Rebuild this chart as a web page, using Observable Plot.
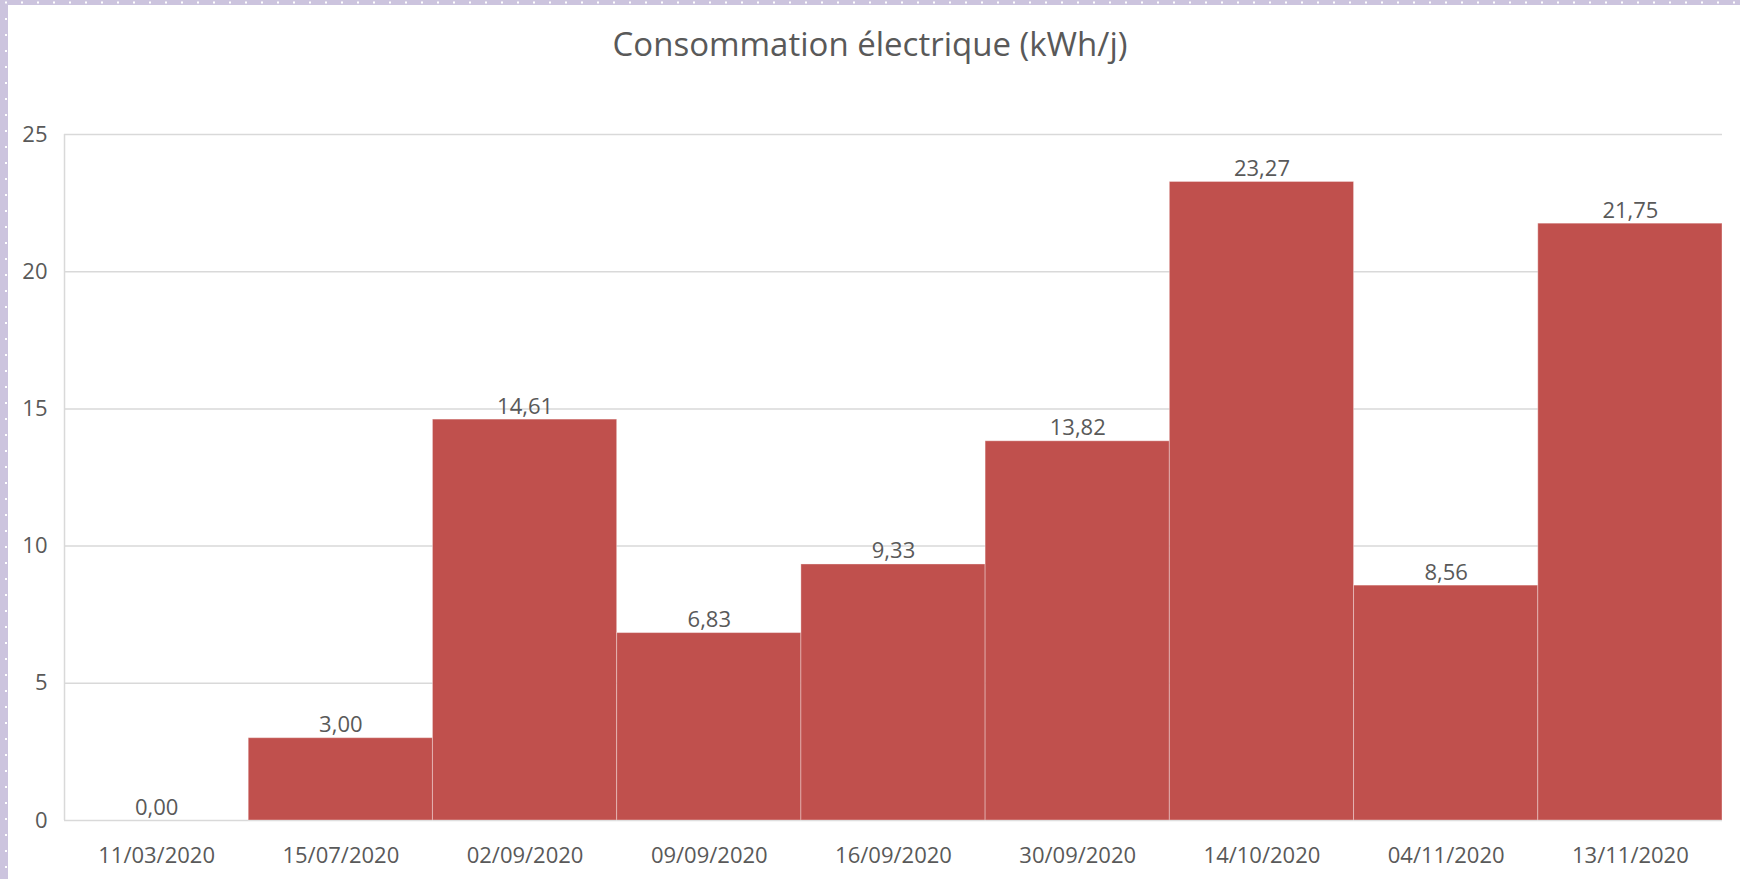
<!DOCTYPE html>
<html>
<head>
<meta charset="utf-8">
<script src="https://cdn.jsdelivr.net/npm/d3@7"></script>
<script src="https://cdn.jsdelivr.net/npm/@observablehq/plot@0.6"></script>
<style>
  html, body { margin: 0; padding: 0; background: #fff; }
  #wrap { position: relative; width: 1740px; height: 879px; overflow: hidden; background: #fff; font-family: "Open Sans", sans-serif; }
  #title { height: 88px; line-height: 88px; text-align: center; font-size: 33px; color: #595959; }
  #left { position: absolute; left: 0; top: 0; width: 8px; height: 879px; background-color: #ccc4de;
          background-image: radial-gradient(circle, #ffffff 1.1px, transparent 1.3px);
          background-size: 16px 16px; background-position: -2px 11px; }
  #top { position: absolute; left: 0; top: 0; width: 1740px; height: 5px; background-color: #ccc4de;
         background-image: radial-gradient(circle, #ffffff 1.1px, transparent 1.3px);
         background-size: 16px 16px; background-position: 14px -5.5px; }
  svg { display: block; }
</style>
</head>
<body>
<div id="wrap">
  <div id="title">Consommation électrique (kWh/j)</div>
  <div id="chart"></div>
  <div id="left"></div>
  <div id="top"></div>
</div>
<script>
const dates = ["11/03/2020","15/07/2020","02/09/2020","09/09/2020","16/09/2020","30/09/2020","14/10/2020","04/11/2020","13/11/2020"];
const values = [0.00, 3.00, 14.61, 6.83, 9.33, 13.82, 23.27, 8.56, 21.75];
const yTicks = [0, 5, 10, 15, 20, 25];

const data = dates.map((d, i) => ({date: d, value: values[i]}));
const fmt = v => v.toFixed(2).replace(".", ",");
const textColor = "#595959";
const gridColor = "#d9d9d9";

const chart = Plot.plot({
  width: 1740,
  height: 791,
  marginTop: 46,
  marginBottom: 59,
  marginLeft: 64,
  marginRight: 18,
  style: {fontFamily: "'Open Sans', sans-serif", fontSize: "22px", color: textColor, background: "white"},
  x: {domain: dates, padding: 0, round: false, label: null},
  y: {domain: [0, 25], label: null},
  marks: [
    Plot.ruleY(yTicks, {stroke: gridColor, strokeWidth: 1.5}),
    Plot.ruleX([dates[0]], {y1: 0, y2: 25, stroke: gridColor, strokeWidth: 1.5, dx: -92.1}),
    Plot.barY(data, {x: "date", y: "value", fill: "#C0504D", stroke: "#ffffff", strokeOpacity: 0.35, strokeWidth: 1}),
    Plot.text(data, {x: "date", y: "value", text: d => fmt(d.value), lineAnchor: "bottom", dy: -6, fill: textColor, fontSize: 22}),
    Plot.axisX({tickSize: 0, tickPadding: 27, fontSize: 22, fill: textColor, label: null}),
    Plot.axisY({ticks: yTicks, tickSize: 0, tickPadding: 17, fontSize: 22, fill: textColor, label: null})
  ]
});
document.getElementById("chart").appendChild(chart);
</script>
</body>
</html>
